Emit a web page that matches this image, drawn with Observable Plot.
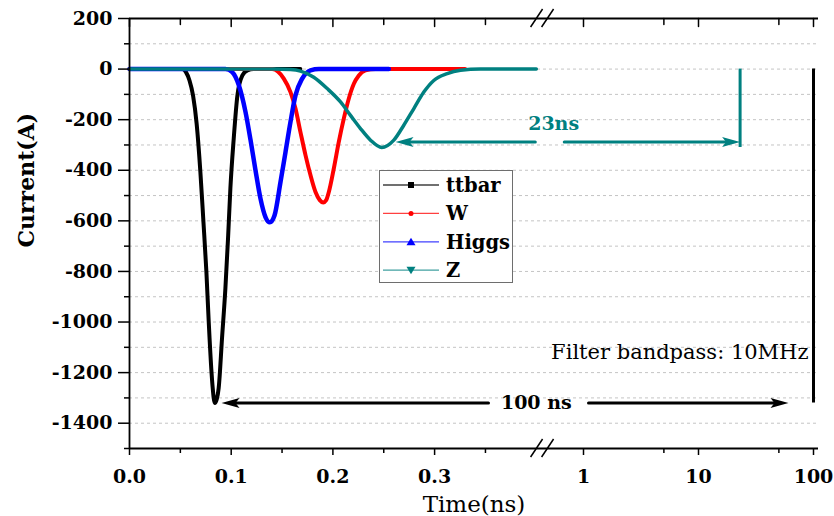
<!DOCTYPE html>
<html>
<head>
<meta charset="utf-8">
<script src="https://cdn.jsdelivr.net/npm/d3@7"></script>
<script src="https://cdn.jsdelivr.net/npm/@observablehq/plot@0.6"></script>
<style>
  body { margin: 0; background: #fff; }
  #chart { position: relative; width: 834px; height: 516px; background: #fff; }
  #legend { position: absolute; left: 379px; top: 170px; width: 132px; height: 111px;
            border: 1.5px solid #6e6e6e; background: #fff; }
  #legend svg { overflow: visible; display: block; }
  #legend text { font-family: "DejaVu Serif", serif; font-weight: bold; font-size: 19.5px; }
</style>
</head>
<body>
<div id="chart"></div>
<script>
// Pulse current (A) versus time (ns) for each process
const series = ["ttbar", "W", "Higgs", "Z"];

const ttbarTime    = [0, 0.052, 0.0555, 0.0590, 0.0625, 0.0660, 0.0697, 0.0727, 0.0756, 0.0779, 0.0806, 0.0818, 0.0838, 0.0858, 0.0877, 0.0910, 0.0943, 0.0969, 0.0992, 0.1025, 0.1061, 0.1110, 0.1160, 0.1220, 0.168];
const ttbarCurrent = [0, 0, -12, -45, -105, -215, -407, -604, -801, -999, -1196, -1260, -1320, -1305, -1261, -1063, -866, -668, -471, -274, -104, -25, -5, 0, 0];

const wTime    = [0, 0.1403, 0.1517, 0.1583, 0.1632, 0.1681, 0.1731, 0.1780, 0.1829, 0.1871, 0.1905, 0.1934, 0.1960, 0.2009, 0.2058, 0.2107, 0.2156, 0.2206, 0.2255, 0.2321, 0.2419, 0.33];
const wCurrent = [0, 0, -38, -91, -156, -249, -341, -420, -486, -518, -527, -518, -486, -393, -288, -196, -117, -58, -25, -5, 0, 0];

const higgsTime    = [0, 0.0944, 0.1010, 0.1075, 0.1141, 0.1190, 0.1239, 0.1288, 0.1337, 0.1380, 0.1425, 0.1485, 0.1534, 0.1583, 0.1632, 0.1698, 0.1780, 0.1862, 0.255];
const higgsCurrent = [0, 0, -12, -64, -170, -280, -400, -512, -585, -606, -580, -446, -328, -209, -104, -38, -5, 0, 0];

const zTime    = [0, 0.1416, 0.1583, 0.1681, 0.1812, 0.1944, 0.2075, 0.2173, 0.2271, 0.2370, 0.2480, 0.2599, 0.2697, 0.2796, 0.2894, 0.2992, 0.3124, 0.3255, 0.3451, 0.40];
const zCurrent = [0, 0, -2, -8, -32, -77, -130, -183, -235, -281, -310, -281, -222, -156, -91, -45, -18, -5, 0, 0];

// Axis ticks
const xMajorTimes  = [0, 0.1, 0.2, 0.3, 1, 10, 100];
const xMajorLabels = ["0.0", "0.1", "0.2", "0.3", "1", "10", "100"];
const xMinorTimes  = [0.05, 0.15, 0.25, 0.35, 5, 50];
const yMajor = [200, 0, -200, -400, -600, -800, -1000, -1200, -1400];
const yMinor = [100, -100, -300, -500, -700, -900, -1100, -1300, -1500];
const yDomain = [-1500, 200];

// Delay annotations: vertical marker at the delayed time, arrows split around the label
const delayLabels  = ["23ns", "100 ns"];
const labelTimes   = [0.55, 0.40];
const labelLevels  = [-215, -1320];
const markerTimes  = [23, 100];
const markerDepths = [-310, -1320];
const arrowGroup   = [0, 0, 1, 1];
const arrowFrom    = [0.399, 0.68, 0.353, 1.105];
const arrowTo      = [0.2616, 23, 0.0905, 60.6];
const arrowLevel   = [-288, -288, -1320, -1320];

const noteText = "Filter bandpass: 10MHz";

// Styles
const seriesData = {ttbar: [ttbarTime, ttbarCurrent], W: [wTime, wCurrent], Higgs: [higgsTime, higgsCurrent], Z: [zTime, zCurrent]};
const seriesColor = {ttbar: "#000000", W: "#ff0000", Higgs: "#0000ff", Z: "#008080"};
const seriesWidth = {ttbar: 4, W: 4, Higgs: 4.5, Z: 3.5};
const groupColor = ["#008080", "#000000"];
const FONT = "DejaVu Serif";

// Broken time axis: linear from 0 to 0.4 ns, logarithmic from 0.5 ns up
const linearEnd = 0.4, logStart = 0.5;
const pos = t => t <= linearEnd ? 1017 * t : 454 + 115 * Math.log10(t);
const breakU = (pos(linearEnd) + pos(logStart)) / 2;

const rows = series.flatMap(name => {
  const [ts, cs] = seriesData[name];
  return ts.map((t, i) => ({series: name, time: t, current: cs[i]}));
});

const majorLabel = new Map(xMajorTimes.map((t, i) => [pos(t), xMajorLabels[i]]));
const gridLevels = [...yMajor, ...yMinor].filter(v => v > yDomain[0] && v < yDomain[1]);

// Axis-break slashes on the bottom and top axis lines
function axisBreaks(index, scales) {
  const ns = "http://www.w3.org/2000/svg";
  const g = document.createElementNS(ns, "g");
  const xb = scales.x(breakU);
  for (const yv of yDomain) {
    const yb = scales.y(yv);
    for (const off of [-5.5, 5.5]) {
      const l = document.createElementNS(ns, "line");
      l.setAttribute("x1", xb + off - 6); l.setAttribute("y1", yb + 9);
      l.setAttribute("x2", xb + off + 6); l.setAttribute("y2", yb - 9);
      l.setAttribute("stroke", "#000"); l.setAttribute("stroke-width", 1.5);
      g.appendChild(l);
    }
  }
  return g;
}

// Filled arrowheads with a notched back, tip at the origin
const headRight = {draw(c) { c.moveTo(0, 0); c.lineTo(-18, -5); c.lineTo(-14, 0); c.lineTo(-18, 5); c.closePath(); }};
const headLeft  = {draw(c) { c.moveTo(0, 0); c.lineTo(18, -5); c.lineTo(14, 0); c.lineTo(18, 5); c.closePath(); }};
const tickDown  = {draw(c, l) { c.moveTo(0, 0); c.lineTo(0, l); }};

const annotationMarks = [];
arrowFrom.forEach((_, i) => {
  const color = groupColor[arrowGroup[i]];
  annotationMarks.push(
    Plot.arrow([i], {x1: j => pos(arrowFrom[j]), x2: j => pos(arrowTo[j]), y1: j => arrowLevel[j], y2: j => arrowLevel[j],
                     headLength: 0, insetEnd: 10, stroke: color, strokeWidth: 3}),
    Plot.dot([i], {x: j => pos(arrowTo[j]), y: j => arrowLevel[j], symbol: arrowTo[i] > arrowFrom[i] ? headRight : headLeft,
                   fill: color, stroke: "none"})
  );
});
markerTimes.forEach((_, i) => {
  annotationMarks.push(
    Plot.ruleX([i], {x: j => pos(markerTimes[j]), y1: () => 0, y2: j => markerDepths[j], stroke: groupColor[i], strokeWidth: 3}),
    Plot.text([i], {x: j => pos(labelTimes[j]), y: j => labelLevels[j], text: j => delayLabels[j], fill: groupColor[i],
                    fontFamily: FONT, fontWeight: "bold", fontSize: 19})
  );
});

const plot = Plot.plot({
  width: 834,
  height: 516,
  marginLeft: 129,
  marginRight: 16,
  marginTop: 18,
  marginBottom: 68,
  style: {fontFamily: FONT, background: "#fff", color: "#000"},
  x: {type: "linear", domain: [0, pos(100) + 5]},
  y: {domain: yDomain},
  marks: [
    Plot.gridY({ticks: gridLevels, stroke: "#c4c4c4", strokeOpacity: 1, strokeDasharray: "3,3", strokeWidth: 1}),
    ...series.map(name => Plot.line(rows.filter(d => d.series === name), {
      x: d => pos(d.time), y: "current", stroke: seriesColor[name], strokeWidth: seriesWidth[name],
      curve: "monotone-x", strokeLinejoin: "round"
    })),
    ...annotationMarks,
    Plot.text([noteText], {frameAnchor: "right", y: () => -1120, dx: -10, textAnchor: "end", fontSize: 21, fontFamily: FONT}),
    // frame lines: left, bottom, top
    Plot.ruleX([0], {strokeWidth: 1.8}),
    Plot.ruleY(yDomain, {strokeWidth: 1.8}),
    // bottom axis
    Plot.axisX({ticks: xMajorTimes.map(pos), tickFormat: u => majorLabel.get(u), tickSize: 7, tickPadding: 14,
                strokeWidth: 1.5, fontSize: 19, fontWeight: "bold", fontFamily: FONT, label: null}),
    Plot.axisX({ticks: xMinorTimes.map(pos), tickFormat: () => "", tickSize: 5, strokeWidth: 1.5, label: null}),
    // top axis ticks point inward
    Plot.vector(xMajorTimes, {x: pos, y: () => yDomain[1], length: 8, anchor: "start", shape: tickDown, stroke: "#000", strokeWidth: 1.5}),
    Plot.vector(xMinorTimes, {x: pos, y: () => yDomain[1], length: 6, anchor: "start", shape: tickDown, stroke: "#000", strokeWidth: 1.5}),
    // left axis
    Plot.axisY({ticks: yMajor, tickFormat: d => String(d), tickSize: 11, tickPadding: 6, strokeWidth: 1.5,
                fontSize: 19, fontWeight: "bold", fontFamily: FONT, label: null}),
    Plot.axisY({ticks: yMinor, tickFormat: () => "", tickSize: 5, strokeWidth: 1.5, label: null}),
    axisBreaks,
    // axis titles
    Plot.text(["Time(ns)"], {frameAnchor: "bottom", dy: 63, lineAnchor: "bottom", fontSize: 23, fontFamily: FONT}),
    Plot.text(["Current(A)"], {frameAnchor: "left", dx: -96, dy: 14, rotate: -90, lineAnchor: "bottom",
                               fontSize: 22, fontWeight: "bold", fontFamily: FONT})
  ]
});

const chart = document.getElementById("chart");
chart.appendChild(plot);

// Legend box with line-and-symbol swatches
const legend = document.createElement("div");
legend.id = "legend";
const ns = "http://www.w3.org/2000/svg";
const lsvg = document.createElementNS(ns, "svg");
lsvg.setAttribute("width", 132); lsvg.setAttribute("height", 111);
const symbolPath = {
  ttbar: "M-3,-3H3V3H-3Z",
  W: "M-2.5,0A2.5,2.5 0 1,0 2.5,0A2.5,2.5 0 1,0 -2.5,0Z",
  Higgs: "M0,-4L4.5,3.5H-4.5Z",
  Z: "M0,4L4.5,-3.5H-4.5Z"
};
series.forEach((name, i) => {
  const cy = 14 + i * 28.4;
  const line = document.createElementNS(ns, "line");
  line.setAttribute("x1", 3); line.setAttribute("x2", 59);
  line.setAttribute("y1", cy); line.setAttribute("y2", cy);
  line.setAttribute("stroke", seriesColor[name]); line.setAttribute("stroke-width", 1.3);
  line.setAttribute("stroke-opacity", 0.75);
  lsvg.appendChild(line);
  const sym = document.createElementNS(ns, "path");
  sym.setAttribute("d", symbolPath[name]);
  sym.setAttribute("transform", `translate(31,${cy})`);
  sym.setAttribute("fill", seriesColor[name]);
  lsvg.appendChild(sym);
  const txt = document.createElementNS(ns, "text");
  txt.setAttribute("x", 66); txt.setAttribute("y", cy + 7);
  txt.textContent = name;
  lsvg.appendChild(txt);
});
legend.appendChild(lsvg);
chart.appendChild(legend);
</script>
</body>
</html>
